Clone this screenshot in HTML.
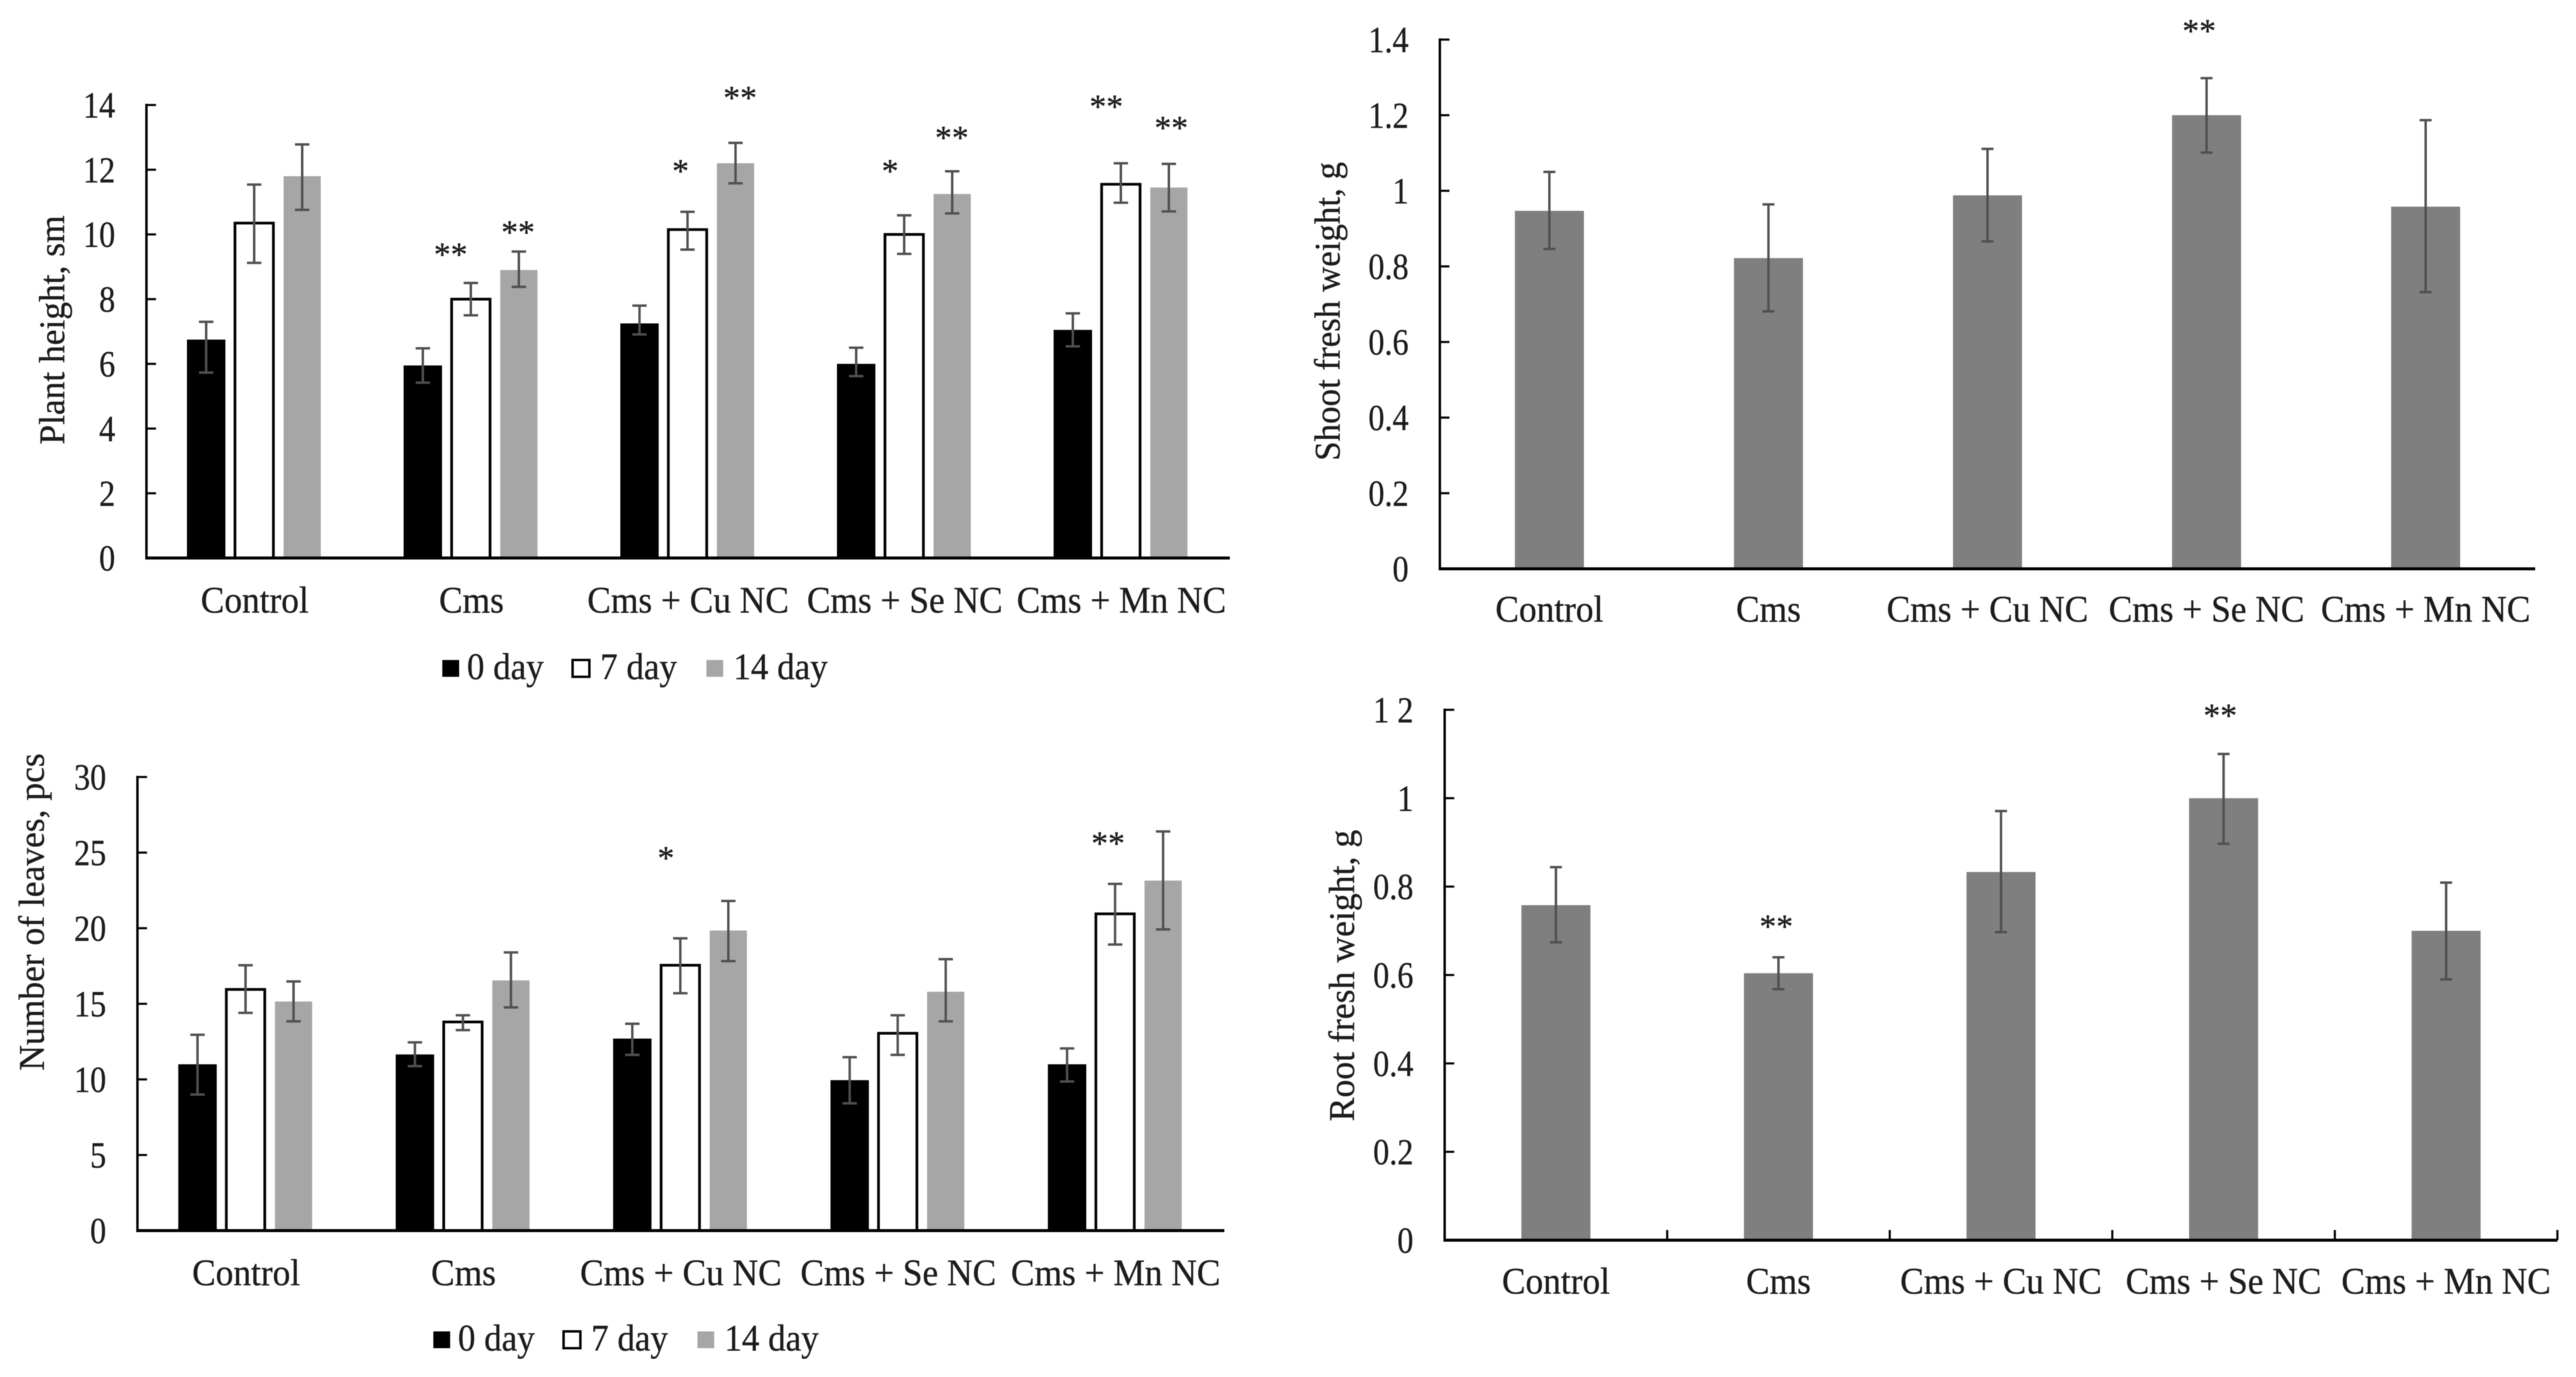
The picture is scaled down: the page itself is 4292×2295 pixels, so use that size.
<!DOCTYPE html>
<html lang="en">
<head>
<meta charset="utf-8">
<title>Plant growth measurements</title>
<style>
html,body{margin:0;padding:0;background:#fff}
svg{display:block;filter:blur(0.8px)}
text{font-family:"Liberation Serif",serif;fill:#1c1c1c;stroke:#1c1c1c;stroke-width:0.5px}
</style>
</head>
<body>
<svg id="figure" xmlns="http://www.w3.org/2000/svg" width="4292" height="2295" viewBox="0 0 4292 2295">
  <rect width="4292" height="2295" fill="#ffffff"/>
  <g id="chart-height"></g>
  <g id="chart-shoot"></g>
  <g id="chart-leaves"></g>
  <g id="chart-root"></g>
</svg>
<script>
const categories = ["Control", "Cms", "Cms + Cu NC", "Cms + Se NC", "Cms + Mn NC"];
const seriesLabels = ["0 day", "7 day", "14 day"];

/* Plant height */
const heightTicks = [0, 2, 4, 6, 8, 10, 12, 14];
const heightTickLabels = ["0", "2", "4", "6", "8", "10", "12", "14"];
const height0Day = [6.75, 5.95, 7.25, 6.0, 7.05];
const height7Day = [10.35, 8.0, 10.15, 10.0, 11.55];
const height14Day = [11.8, 8.9, 12.2, 11.25, 11.45];
const height0DayHigh = [7.3, 6.48, 7.8, 6.5, 7.56];
const height0DayLow = [5.73, 5.42, 6.91, 5.62, 6.54];
const height7DayHigh = [11.54, 8.5, 10.7, 10.59, 12.2];
const height7DayLow = [9.12, 7.5, 9.53, 9.4, 10.98];
const height14DayHigh = [12.78, 9.47, 12.83, 11.95, 12.18];
const height14DayLow = [10.76, 8.38, 11.58, 10.65, 10.71];
const heightStarLabels = ["**", "**", "*", "**", "*", "**", "**", "**"];
const heightStarCategory = [1.404, 1.715, 2.465, 2.74, 3.432, 3.717, 4.43, 4.73];
const heightStarValue = [9.52, 10.21, 12.1, 14.36, 12.1, 13.13, 14.09, 13.43];

/* Number of leaves */
const leavesTicks = [0, 5, 10, 15, 20, 25, 30];
const leavesTickLabels = ["0", "5", "10", "15", "20", "25", "30"];
const leaves0Day = [11.0, 11.65, 12.7, 9.95, 11.0];
const leaves7Day = [15.95, 13.8, 17.55, 13.05, 20.95];
const leaves14Day = [15.15, 16.55, 19.85, 15.8, 23.15];
const leaves0DayHigh = [12.95, 12.45, 13.68, 11.47, 12.05];
const leaves0DayLow = [9.0, 10.88, 11.62, 8.42, 9.86];
const leaves7DayHigh = [17.55, 14.24, 19.33, 14.24, 22.93];
const leaves7DayLow = [14.4, 13.26, 15.7, 11.62, 18.92];
const leaves14DayHigh = [16.48, 18.4, 21.8, 17.95, 26.4];
const leaves14DayLow = [13.84, 14.76, 17.82, 13.84, 19.92];
const leavesStarLabels = ["*", "**"];
const leavesStarCategory = [2.431, 4.465];
const leavesStarValue = [24.95, 25.92];

/* Shoot fresh weight */
const shootTicks = [0, 0.2, 0.4, 0.6, 0.8, 1, 1.2, 1.4];
const shootTickLabels = ["0", "0.2", "0.4", "0.6", "0.8", "1", "1.2", "1.4"];
const shootWeight = [0.947, 0.822, 0.988, 1.2, 0.958];
const shootHigh = [1.05, 0.964, 1.111, 1.298, 1.187];
const shootLow = [0.846, 0.681, 0.866, 1.101, 0.732];
const shootStarLabels = ["**"];
const shootStarCategory = [3.466];
const shootStarValue = [1.435];

/* Root fresh weight */
const rootTicks = [0, 0.2, 0.4, 0.6, 0.8, 1, 1.2];
const rootTickLabels = ["0", "0.2", "0.4", "0.6", "0.8", "1", "1 2"];
const rootWeight = [0.758, 0.604, 0.833, 1.0, 0.70];
const rootHigh = [0.844, 0.64, 0.971, 1.10, 0.809];
const rootLow = [0.674, 0.568, 0.697, 0.897, 0.59];
const rootStarLabels = ["**", "**"];
const rootStarCategory = [1.49, 3.485];
const rootStarValue = [0.72, 1.197];

const NS = "http://www.w3.org/2000/svg";
const BLACK = "#000000", GREY = "#a6a6a6", DARK_GREY = "#7f7f7f", WHISKER = "#505050";

function slug(s){ return String(s).toLowerCase().replace(/[^a-z0-9]+/g, "-").replace(/^-|-$/g, ""); }

function node(parent, tag, props){
  const el = document.createElementNS(NS, tag);
  for (const k in props) el.setAttribute(k, props[k]);
  parent.appendChild(el);
  return el;
}

function drawText(parent, str, x, y, size, anchor, sx, name){
  const t = node(parent, "text", {
    "font-size": size,
    "text-anchor": anchor,
    transform: "translate(" + x + " " + y + ") scale(" + sx + " 1)"
  });
  t.textContent = str;
  
  
  return t;
}

function drawAxes(g, c, ticks, labels, scaleY){
  const yAxis = node(g, "line", {x1: c.left, x2: c.left, y1: c.top - 2, y2: c.bottom, stroke: "#000", "stroke-width": 4});
  
  
  ticks.forEach(function(v, i){
    const py = scaleY(v);
    const tick = node(g, "line", {x1: c.left, x2: c.left + 16, y1: py, y2: py, stroke: "#000", "stroke-width": 3.5});
    
    
    drawText(g, labels[i], c.left - 52, py + 21, 61, "end", 0.88, "y-tick-label-" + slug(labels[i]));
  });
  const title = drawText(g, c.title, 0, 0, 60, "middle", 1, "y-axis-title");
  title.setAttribute("transform", "translate(" + c.titleX + " " + c.titleY + ") rotate(-90)");
  title.setAttribute("textLength", c.titleLength);
  title.setAttribute("lengthAdjust", "spacingAndGlyphs");
}

function drawBaseline(g, c, band){
  const xAxis = node(g, "line", {x1: c.left - 2, x2: c.right, y1: c.bottom, y2: c.bottom, stroke: "#000", "stroke-width": 5});
  
  
  categories.forEach(function(name, i){
    if (c.xTicks) {
      const px = c.left + band * (i + 1);
      const tick = node(g, "line", {x1: px, x2: px, y1: c.bottom, y2: c.bottom - 17, stroke: "#000", "stroke-width": 3.5});
      
      
    }
    drawText(g, name, c.left + band * (i + 0.5), c.labelY, 62, "middle", 0.95, "x-label-" + slug(name));
  });
}

function drawBar(g, cx, value, high, low, spec, scaleY, name){
  const top = scaleY(value), base = scaleY(0);
  const inset = spec.stroke ? 2 : 0;
  const bar = node(g, "rect", {
    x: cx - spec.width / 2 + inset, y: top, width: spec.width - 2 * inset, height: base - top,
    fill: spec.fill, stroke: spec.stroke || "none", "stroke-width": spec.stroke ? 4.5 : 0
  });
  
  
  const hi = scaleY(high), lo = scaleY(low), cap = spec.cap / 2;
  const whisker = node(g, "path", {
    d: "M" + cx + " " + hi + "V" + lo + "M" + (cx - cap) + " " + hi + "H" + (cx + cap) + "M" + (cx - cap) + " " + lo + "H" + (cx + cap),
    fill: "none", stroke: WHISKER, "stroke-width": 4
  });
  
  
}

function drawStars(g, c, band, labels, cats, vals, scaleY){
  labels.forEach(function(s, i){
    drawText(g, s, c.left + band * cats[i], scaleY(vals[i]) + 26, 56, "middle", 1, "significance-marker");
  });
}

function drawLegend(g, x, y){
  const swatchOffset = [0, 217, 440];
  const textOffset = [41, 263, 485];
  const fills = [BLACK, "#ffffff", GREY];
  const leg = node(g, "g", {});
  
  
  seriesLabels.forEach(function(label, i){
    const sw = node(leg, "rect", {
      x: x + swatchOffset[i], y: y - 14, width: 28, height: 28,
      fill: fills[i], stroke: i === 1 ? "#000" : "none", "stroke-width": i === 1 ? 4 : 0
    });
    
    
    drawText(leg, label, x + textOffset[i], y + 18, 62, "start", 0.94, "legend-entry-" + slug(label));
  });
}

function groupedChart(id, c, ticks, labels, s0, s7, s14, hi0, lo0, hi7, lo7, hi14, lo14, starL, starC, starV){
  const g = document.getElementById(id);
  const band = (c.right - c.left) / categories.length;
  const scaleY = function(v){ return c.bottom - v / ticks[ticks.length - 1] * (c.bottom - c.top); };
  const specs = [
    {width: 64, fill: BLACK, cap: 24, offset: -81, values: s0, hi: hi0, lo: lo0},
    {width: 68, fill: "#ffffff", stroke: "#000", cap: 24, offset: -1, values: s7, hi: hi7, lo: lo7},
    {width: 62, fill: GREY, cap: 24, offset: 79, values: s14, hi: hi14, lo: lo14}
  ];
  categories.forEach(function(cat, i){
    const cx = c.left + band * (i + 0.5);
    specs.forEach(function(sp, k){
      drawBar(g, cx + sp.offset, sp.values[i], sp.hi[i], sp.lo[i], sp, scaleY, slug(cat) + "-" + slug(seriesLabels[k]));
    });
  });
  drawAxes(g, c, ticks, labels, scaleY);
  drawBaseline(g, c, band);
  drawStars(g, c, band, starL, starC, starV, scaleY);
  drawLegend(g, c.legendX, c.legendY);
}

function singleChart(id, c, ticks, labels, vals, hi, lo, starL, starC, starV){
  const g = document.getElementById(id);
  const band = (c.right - c.left) / categories.length;
  const scaleY = function(v){ return c.bottom - v / ticks[ticks.length - 1] * (c.bottom - c.top); };
  const spec = {width: 115, fill: DARK_GREY, cap: 20};
  categories.forEach(function(cat, i){
    drawBar(g, c.left + band * (i + 0.5), vals[i], hi[i], lo[i], spec, scaleY, slug(cat));
  });
  drawAxes(g, c, ticks, labels, scaleY);
  drawBaseline(g, c, band);
  drawStars(g, c, band, starL, starC, starV, scaleY);
}

groupedChart("chart-height",
  {left: 244, right: 2049, top: 175, bottom: 930, title: "Plant height, sm", titleX: 107, titleY: 550, titleLength: 382, labelY: 1021, legendX: 737, legendY: 1114},
  heightTicks, heightTickLabels, height0Day, height7Day, height14Day,
  height0DayHigh, height0DayLow, height7DayHigh, height7DayLow, height14DayHigh, height14DayLow,
  heightStarLabels, heightStarCategory, heightStarValue);

groupedChart("chart-leaves",
  {left: 229, right: 2040, top: 1295, bottom: 2051, title: "Number of leaves, pcs", titleX: 73, titleY: 1520, titleLength: 529, labelY: 2142, legendX: 722, legendY: 2233},
  leavesTicks, leavesTickLabels, leaves0Day, leaves7Day, leaves14Day,
  leaves0DayHigh, leaves0DayLow, leaves7DayHigh, leaves7DayLow, leaves14DayHigh, leaves14DayLow,
  leavesStarLabels, leavesStarCategory, leavesStarValue);

singleChart("chart-shoot",
  {left: 2399, right: 4224, top: 66, bottom: 948, title: "Shoot fresh weight, g", titleX: 2232, titleY: 519, titleLength: 498, labelY: 1036},
  shootTicks, shootTickLabels, shootWeight, shootHigh, shootLow,
  shootStarLabels, shootStarCategory, shootStarValue);

singleChart("chart-root",
  {left: 2407, right: 4261, top: 1183, bottom: 2067, title: "Root fresh weight, g", titleX: 2256, titleY: 1626, titleLength: 486, labelY: 2156, xTicks: true},
  rootTicks, rootTickLabels, rootWeight, rootHigh, rootLow,
  rootStarLabels, rootStarCategory, rootStarValue);
</script>
</body>
</html>
